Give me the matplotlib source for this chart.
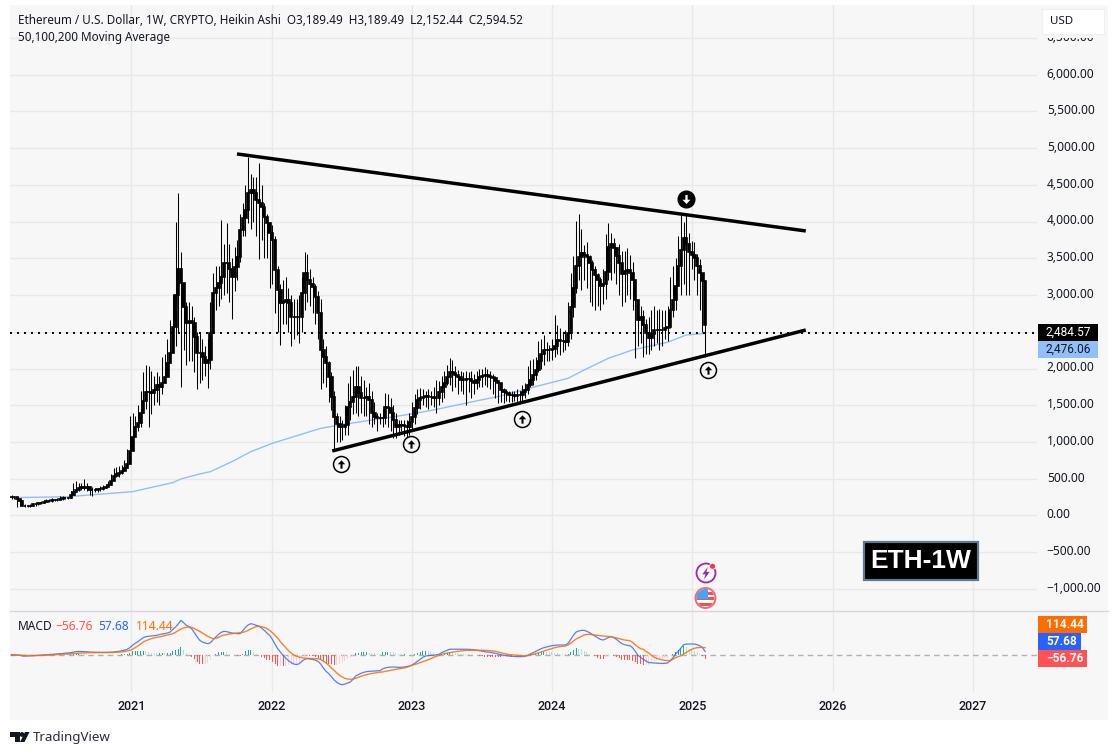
import pandas as pd
import matplotlib
matplotlib.use("Agg")
import matplotlib.pyplot as plt
from matplotlib.patches import Rectangle, Circle, Polygon
from matplotlib.path import Path
from matplotlib.transforms import ScaledTranslation

plt.rcParams['font.family'] = ['Noto Sans', 'DejaVu Sans']

# weekly heikin ashi candles
closes = [255,250,230,200,135,130,130,135,150,155,
    165,170,185,195,200,205,210,210,225,240,
    240,240,280,320,350,375,385,370,385,345,
    340,345,355,365,375,390,420,470,540,560,
    575,600,640,700,880,1073,1209,1255,1390,1560,
    1685,1685,1663,1708,1776,1753,1800,1890,2070,2207,
    2570,3000,3350,3160,2840,2615,2640,2615,2434,2207,
    2207,2150,2070,2116,2480,3024,3100,3160,3250,3432,
    3432,3350,3250,3386,3522,3885,4050,4157,4384,4430,
    4384,4300,4248,4203,4067,3976,3850,3749,3341,3069,
    2887,2900,2933,2887,2706,2706,2700,2706,3024,3295,
    3205,3150,3114,2978,2751,2252,2150,2070,1890,1617,
    1345,1250,1209,1209,1232,1481,1550,1617,1753,1663,
    1595,1600,1617,1572,1390,1345,1330,1322,1322,1481,
    1459,1390,1300,1209,1232,1232,1215,1209,1270,1345,
    1460,1572,1600,1618,1620,1618,1618,1605,1595,1680,
    1754,1799,1880,1958,1935,1912,1880,1844,1850,1855,
    1858,1830,1799,1840,1890,1900,1905,1903,1885,1867,
    1830,1799,1708,1680,1663,1645,1635,1627,1635,1640,
    1675,1708,1780,1844,1910,1980,2100,2200,2253,2253,
    2253,2270,2310,2389,2380,2370,2366,2480,2840,3100,
    3400,3523,3568,3540,3514,3430,3341,3270,3205,3120,
    3150,3320,3650,3690,3636,3530,3432,3280,3330,3340,
    3296,3200,2933,2660,2700,2590,2480,2420,2470,2525,
    2530,2525,2530,2550,2570,2800,2933,3120,3400,3613,
    3780,3700,3591,3540,3500,3400,3296,3189,2594.52]
highs = [285,265,250,230,215,150,145,150,175,175,
    190,195,210,220,225,235,230,240,260,265,
    250,250,330,440,470,445,440,490,440,400,
    385,375,380,395,410,435,470,560,650,660,
    670,690,760,900,1350,1400,1350,1500,1700,1950,
    2050,2040,1960,1900,1950,1900,2150,2200,2400,2660,
    3000,4000,4384,3590,3100,2900,2900,2850,2700,2500,
    2500,2400,2300,2400,2900,3300,3400,3400,4021,3700,
    3976,3700,3500,3650,3750,4100,4250,4500,4883,4650,
    4600,4600,4792,4500,4250,4100,4000,3950,3800,3400,
    3150,3200,3250,3100,3000,2950,2950,3000,3250,3581,
    3554,3350,3250,3150,3050,2950,2400,2300,2100,1950,
    1700,1400,1350,1300,1500,1800,1900,1980,2035,2030,
    1900,1850,1750,1800,1700,1550,1400,1400,1450,1663,
    1650,1600,1500,1400,1300,1300,1300,1300,1400,1550,
    1650,1720,1730,1720,1700,1720,1700,1750,1845,1830,
    1900,1960,2050,2139,2120,2030,1980,1960,1950,1960,
    1950,1960,1920,1960,2000,2000,2026,1990,1960,1930,
    1900,1850,1800,1740,1720,1700,1700,1700,1720,1700,
    1780,1800,2040,2120,2130,2150,2380,2400,2450,2360,
    2320,2400,2729,2593,2550,2480,2525,2910,3300,3530,
    4012,4099,3900,3680,3727,3550,3480,3400,3300,3250,
    3350,3830,3976,3850,3780,3650,3700,3600,3600,3640,
    3545,3450,3200,2900,2850,2790,2680,2700,2800,2850,
    2800,2810,2800,2790,2850,3240,3400,3500,3800,4090,
    4000,4112,3850,3730,3720,3560,3490,3300,3189.49]
lows = [230,220,115,130,125,115,115,120,130,135,
    145,155,165,180,185,190,195,195,205,215,
    225,225,235,280,325,330,340,340,330,280,
    265,320,325,335,350,375,410,440,500,520,
    530,560,600,670,770,900,1080,1150,1200,1400,
    1450,1200,1380,1500,1550,1500,1650,1800,1950,2100,
    2250,2300,2500,1753,2250,2050,2100,2100,1950,1717,
    1800,1850,1900,1731,2000,2550,2800,2850,2950,3000,
    3024,2900,2670,3050,3200,3450,3800,3800,3976,3900,
    4000,3800,3486,3750,3500,3500,3100,3150,2750,2500,
    2320,2600,2600,2500,2311,2400,2450,2350,2500,2800,
    2900,2850,2750,2600,2400,1717,1800,1750,1550,1436,
    892,1000,1000,1028,1100,1100,1300,1380,1400,1350,
    1400,1350,1350,1250,1200,1250,1150,1250,1200,1250,
    1200,1150,1050,1050,1100,1150,1080,1000,1100,1150,
    1250,1380,1450,1500,1480,1450,1500,1480,1391,1500,
    1550,1600,1780,1780,1700,1750,1650,1690,1650,1500,
    1680,1600,1650,1720,1750,1750,1780,1750,1720,1650,
    1600,1530,1550,1530,1560,1540,1540,1560,1530,1536,
    1560,1600,1650,1750,1780,1850,1950,2000,2050,2100,
    2100,2117,2150,2200,2185,2230,2250,2300,2400,2700,
    3024,3200,3069,3200,3100,2900,2850,2800,2850,2800,
    2880,2950,3200,3200,3300,3150,3000,2850,2900,3000,
    2950,2800,2139,2300,2350,2162,2200,2200,2250,2300,
    2350,2250,2300,2400,2380,2550,2700,2800,3150,3000,
    3150,3000,3000,3350,3200,3000,2800,2500,2152.44]

# 200 week moving average, week number and price
sma_weeks = [0,21,45,60,63,70,74,82,89,97,107,115,120,130,145,157,170,182,194,207,213,222,231,244,251,258]
sma_values = [242,256,324,447,497,565,597,733,868,982,1096,1186,1218,1277,1359,1436,1536,1627,1745,1867,1980,2139,2253,2357,2457,2476]

macd = [10,8,5,3,-10,-12,-10,-8,-5,-2,
    0,3,6,8,12,15,18,22,25,28,
    32,35,40,48,55,58,58,55,52,50,
    48,46,46,45,44,44,45,47,50,55,
    60,68,76,90,115,150,180,205,235,265,
    280,285,290,295,300,310,320,325,335,350,
    390,425,470,525,490,450,430,400,340,280,
    225,200,185,175,190,235,275,315,345,360,
    355,345,335,330,325,325,370,420,455,475,
    465,450,440,410,375,335,300,240,170,100,
    50,0,-40,-80,-110,-130,-140,-125,-90,-60,
    -50,-55,-62,-72,-90,-130,-190,-240,-275,-320,
    -370,-405,-430,-440,-430,-415,-400,-360,-310,-290,
    -270,-255,-245,-240,-238,-235,-232,-230,-205,-190,
    -180,-178,-175,-178,-180,-180,-175,-168,-158,-145,
    -120,-90,-60,-30,-10,-5,0,3,5,15,
    40,60,75,90,92,92,92,92,92,91,
    90,88,84,78,70,62,55,50,45,38,
    30,20,10,0,-5,-10,-14,-17,-19,-20,
    -20,-15,0,20,40,60,80,100,115,125,
    135,145,150,155,155,155,155,180,240,300,
    350,365,375,375,360,340,315,290,265,240,
    230,245,270,280,265,240,205,175,160,150,
    145,115,60,0,-30,-60,-85,-108,-112,-115,
    -118,-120,-122,-120,-115,-80,-40,20,60,110,
    160,168,170,170,170,160,145,115,57.68]
signal = [0,1,1,2,0,-2,-3,-4,-4,-4,
    -3,-2,0,2,4,7,9,11,14,17,
    20,22,24,27,30,33,35,37,39,40,
    41,41,41,41,42,42,42,43,44,46,
    48,52,56,65,75,90,115,140,170,200,
    220,235,250,262,270,275,285,295,305,315,
    325,345,370,395,410,420,425,420,400,380,
    360,335,310,285,265,250,255,270,290,305,
    310,320,325,330,335,340,345,355,375,395,
    415,430,435,430,420,400,375,340,300,260,
    205,160,115,70,35,5,-15,-25,-35,-42,
    -45,-47,-48,-50,-52,-65,-85,-115,-150,-190,
    -225,-265,-300,-325,-345,-355,-360,-355,-345,-330,
    -315,-300,-290,-280,-272,-265,-258,-252,-250,-240,
    -232,-225,-218,-210,-202,-195,-190,-180,-165,-148,
    -135,-125,-110,-95,-80,-65,-50,-30,-15,0,
    15,28,35,40,48,55,60,65,70,74,
    75,76,77,77,76,75,74,73,70,66,
    60,50,40,28,20,12,8,4,0,-3,
    -5,-5,-3,5,15,25,38,50,65,78,
    90,102,115,125,130,135,140,155,185,215,
    245,265,285,305,315,315,310,305,300,295,
    290,285,282,280,270,262,250,240,230,225,
    220,195,160,125,100,90,60,35,0,-25,
    -45,-58,-68,-75,-78,-80,-60,-35,-20,-5,
    20,45,70,90,105,115,118,120,114.44]

res_dates = ['2021-10-03', '2025-10-23']
res_prices = [4920, 3872]
sup_dates = ['2022-06-08', '2025-10-23']
sup_prices = [878, 2524]
up_dates = ['2022-07-01', '2022-12-30', '2023-10-15', '2025-02-10']
up_prices = [701, 973, 1313, 1980]
down_dates = ['2024-12-15']
down_prices = [4307]
last_price = 2484.57

price_ticks = list(range(-1000, 7000, 500))
years = [2021, 2022, 2023, 2024, 2025, 2026, 2027]

weeks = pd.date_range('2020-02-24', periods=len(closes), freq='W-MON')
opens = closes[:1] + closes[:-1]
hist = [m - s for m, s in zip(macd, signal)]

W, H = 1119, 755
BG = '#f7f7f7'
GRID = '#e8e8e8'
TXT = '#131722'

fig = plt.figure(figsize=(W / 100, H / 100), dpi=100, facecolor='white')
fig.add_artist(Rectangle((10 / W, 1 - 720 / H), 1098 / W, 715 / H, transform=fig.transFigure,
                         facecolor=BG, edgecolor='none', zorder=-1))

ax = fig.add_axes([10 / W, 1 - 611 / H, 1027 / W, 606 / H], facecolor='none')
ax2 = fig.add_axes([10 / W, 1 - 692 / H, 1027 / W, 81 / H], facecolor='none', sharex=ax)

# candles
ax.vlines(weeks, lows, highs, color='black', lw=0.75, zorder=3)
bottoms = [min(o, c) for o, c in zip(opens, closes)]
heights = [abs(o - c) for o, c in zip(opens, closes)]
ax.bar(weeks, heights, bottom=bottoms, width=6, color='black', edgecolor='black', lw=1.2, zorder=3)

ax.plot(weeks[sma_weeks], sma_values, color='#90bff9', lw=1.0, zorder=2)
ax.axhline(last_price, color='black', lw=1.4, ls=(0, (1, 2.6)), zorder=2)
ax.plot(pd.to_datetime(res_dates), res_prices, color='black', lw=2.5, zorder=4, solid_capstyle='butt')
ax.plot(pd.to_datetime(sup_dates), sup_prices, color='black', lw=2.5, zorder=4, solid_capstyle='butt')

# arrow signals
up_arrow = Path([(0, 1), (0.9, 0.05), (0.25, 0.05), (0.25, -1), (-0.25, -1), (-0.25, 0.05), (-0.9, 0.05), (0, 1)], closed=True)
down_arrow = Path([(0, -1), (0.9, -0.05), (0.25, -0.05), (0.25, 1), (-0.25, 1), (-0.25, -0.05), (-0.9, -0.05), (0, -1)], closed=True)
ax.plot(pd.to_datetime(up_dates), up_prices, ls='none', marker='o', ms=11.5, mfc=BG, mec='black', mew=1.1, zorder=5)
ax.plot(pd.to_datetime(up_dates), up_prices, ls='none', marker=up_arrow, ms=6, color='black', mew=0, zorder=6)
ax.plot(pd.to_datetime(down_dates), down_prices, ls='none', marker='o', ms=12, color='black', zorder=5)
ax.plot(pd.to_datetime(down_dates), down_prices, ls='none', marker=down_arrow, ms=6.5, color='white', mew=0, zorder=6)

ax.set_xlim(pd.Timestamp('2020-02-20'), pd.Timestamp('2027-06-17'))
ax.set_ylim(-1300, 6947)
ax.set_yticks(price_ticks)
# the 2,500 label sits behind the last price badge in the reference
ax.set_yticklabels(['' if t == 2500 else f'{t:,.2f}'.replace('-', '\u2212') for t in price_ticks],
                   fontsize=8.6, color=TXT)
ax.yaxis.tick_right()
ax.tick_params(axis='y', length=0, pad=7)
ax.tick_params(axis='x', length=0, labelbottom=False)
up_shift = ScaledTranslation(0, 1.5 / 72, fig.dpi_scale_trans)
for lab in ax.get_yticklabels():
    lab.set_transform(lab.get_transform() + up_shift)

year_pos = pd.to_datetime([f'{y}-01-01' for y in years])
ax.set_xticks(year_pos)
ax.grid(True, color=GRID, lw=1, zorder=0)
ax.set_axisbelow(True)

# macd pane
hist_colors = []
for i, v in enumerate(hist):
    prev = hist[i - 1] if i else 0
    if v >= 0:
        hist_colors.append('#26a69a' if v >= prev else '#b2dfdb')
    else:
        hist_colors.append('#ff5252' if v <= prev else '#ffcdd2')
ax2.bar(weeks, hist, width=2.6, color=hist_colors, zorder=2)
ax2.axhline(0, color='#b0b0b0', lw=1, ls=(0, (4, 3)), zorder=1)
ax2.plot(weeks, macd, color='#2962ff', lw=0.9, alpha=0.8, zorder=3)
ax2.plot(weeks, signal, color='#ff6d00', lw=1.0, alpha=0.85, zorder=4)
ax2.set_ylim(-550, 665)
ax2.set_yticks([])
ax2.set_xticks(year_pos)
ax2.set_xticklabels([str(y) for y in years], fontsize=9, family='Roboto', fontweight='medium', color=TXT)
ax2.tick_params(axis='x', length=0, pad=6)
ax2.grid(True, axis='x', color=GRID, lw=1, zorder=0)
ax2.set_axisbelow(True)
for a in (ax, ax2):
    for s in a.spines.values():
        s.set_visible(False)

# overlay in pixels for labels, badges and icons
ov = fig.add_axes([0, 0, 1, 1], zorder=10, facecolor='none')
ov.set_xlim(0, W)
ov.set_ylim(H, 0)
ov.axis('off')

ov.plot([10, 1108], [611, 611], color='#d6d6e0', lw=1)

ov.text(18, 20, 'Ethereum / U.S. Dollar, 1W, CRYPTO, Heikin Ashi  O3,189.49  H3,189.49  L2,152.44  C2,594.52',
        fontsize=8.42, color=TXT, va='center')
ov.text(18, 37, '50,100,200 Moving Average', fontsize=8.42, color=TXT, va='center')

# the currency button hides most of the top tick label
ov.add_patch(Rectangle((1040, 5), 68, 33, facecolor=BG, edgecolor='none', zorder=2))
ov.add_patch(Rectangle((1042, 9), 62, 25, facecolor='white', edgecolor='#f0f0f0', lw=0.8, zorder=3))
ov.text(1050, 22, 'USD', fontsize=8.3, color=TXT, va='center', zorder=4)


def badge(x1, y0, y1, face, label, color='white', weight='normal'):
    ov.add_patch(Rectangle((1038, y0), x1 - 1038, y1 - y0, facecolor=face, edgecolor='none', zorder=3))
    ov.text(1046, (y0 + y1) / 2, label, color=color, fontsize=8.6, family='Roboto', va='center',
            fontweight=weight, zorder=4)


badge(1098, 324, 341, 'black', '2,484.57')
badge(1098, 341, 358, '#90bff9', '2,476.06', color=TXT)
badge(1087, 616, 633, '#ff6d00', '114.44', weight='bold')
badge(1081, 633, 650, '#2962ff', '57.68', weight='bold')
badge(1087, 650, 667, '#ff5252', '\u221256.76', weight='bold')

# MACD legend
ov.text(18, 627, 'MACD', fontsize=8.6, color=TXT, va='center')
ov.text(55, 627, '\u221256.76', fontsize=8.6, color='#ff5252', va='center')
ov.text(98, 627, '57.68', fontsize=8.6, color='#2962ff', va='center')
ov.text(136, 627, '114.44', fontsize=8.6, color='#ff6d00', va='center')

# ETH-1W box
ov.add_patch(Rectangle((864, 542), 114, 38, facecolor='black', edgecolor='#5d7a92', lw=1.6, zorder=3))
ov.text(921, 561, 'ETH-1W', fontsize=19, family='Liberation Sans', color='white', ha='center', va='center',
        fontweight='bold', zorder=4)

# event icons
ov.add_patch(Circle((706, 573), 9.5, facecolor=BG, edgecolor='#9c27b0', lw=1.3, zorder=3))
ov.add_patch(Polygon([(707.8, 567), (702.3, 574.3), (705.4, 574.3), (704, 579.5), (709.6, 572), (706.4, 572)],
                     facecolor='#9c27b0', edgecolor='none', zorder=4))
ov.add_patch(Circle((712.5, 566.3), 3, facecolor='#f23645', edgecolor=BG, lw=0.6, zorder=5))

flag = Circle((705.5, 598), 9, facecolor='white', edgecolor='none', zorder=3)
ov.add_patch(flag)
for y0, y1 in [(592, 595), (597, 600), (603, 606)]:
    r = Rectangle((695, y0), 21, y1 - y0, facecolor='#ef5350', edgecolor='none', zorder=4)
    ov.add_patch(r)
    r.set_clip_path(flag)
canton = Rectangle((696, 589), 12, 10, facecolor='#42a5f5', edgecolor='none', zorder=5)
ov.add_patch(canton)
canton.set_clip_path(flag)
ov.add_patch(Circle((705.5, 598), 10, facecolor='none', edgecolor='#f26a78', lw=1.4, zorder=6))

# logo and wordmark
ov.add_patch(Polygon([(10, 732), (19.5, 732), (19.5, 742), (14.5, 742), (14.5, 737), (10, 737)], facecolor='#131722', edgecolor='none'))
ov.add_patch(Circle((22, 734.5), 2.4, facecolor='#131722', edgecolor='none'))
ov.add_patch(Polygon([(25, 732), (29.5, 732), (24.5, 742), (20, 742)], facecolor='#131722', edgecolor='none'))
ov.text(33, 737.5, 'TradingView', fontsize=9.6, color='#2a2e39', va='center')

fig.savefig('out.png', dpi=100, facecolor='white')
